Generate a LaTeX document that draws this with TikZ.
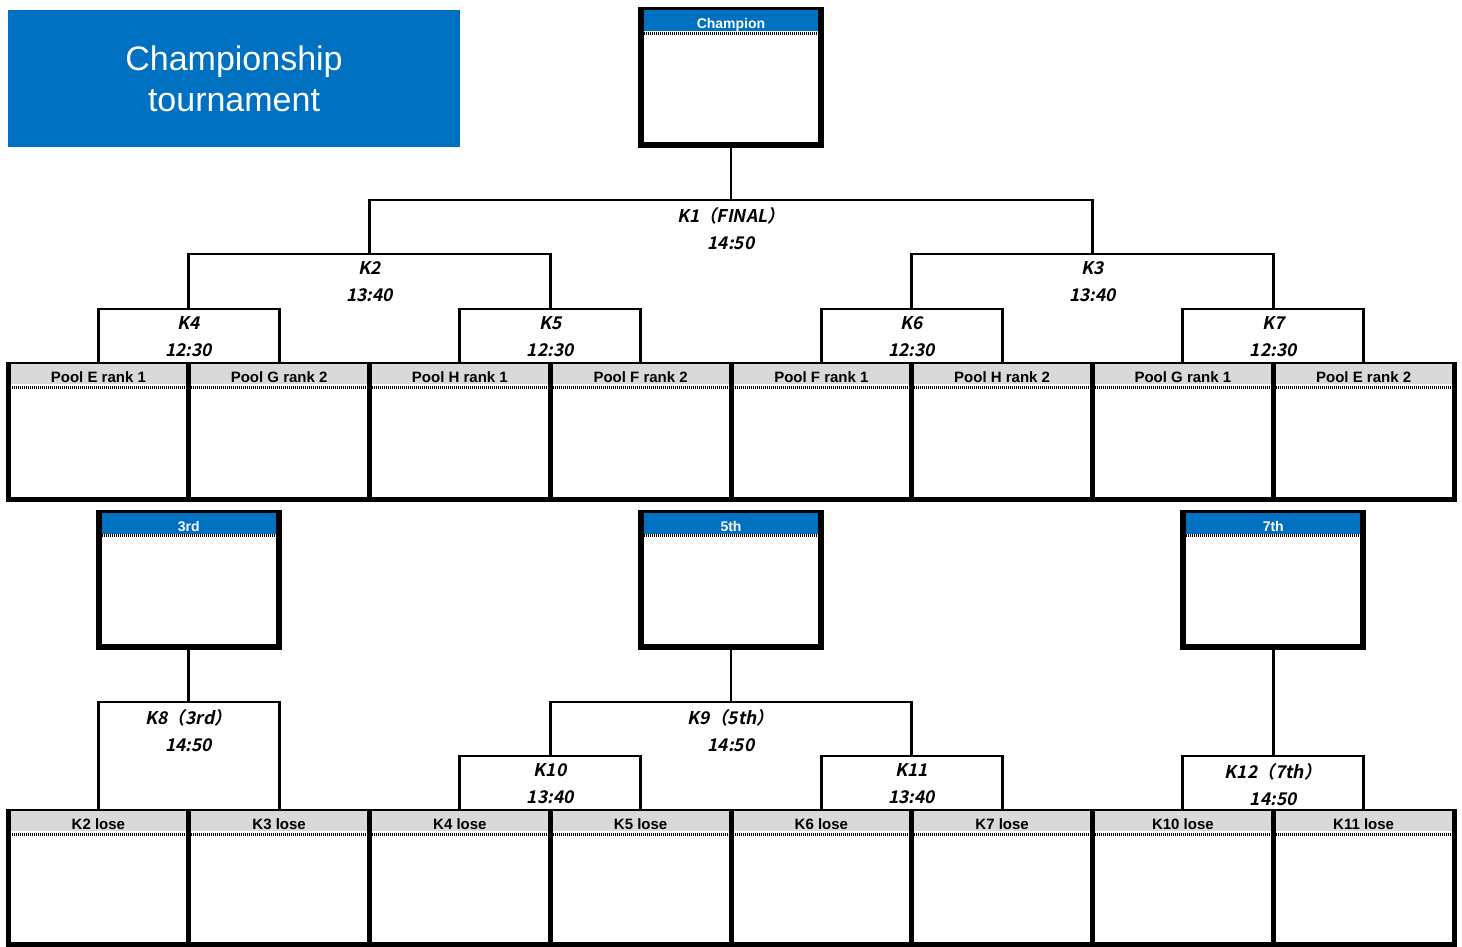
\documentclass[tikz,border=0pt]{standalone}
\usepackage{fontspec}
\setmainfont{Liberation Sans}
\newfontfamily\kfont[FakeSlant=0.2]{Noto Sans CJK JP Bold}
\usetikzlibrary{positioning}
\definecolor{titleblue}{HTML}{0070C0}
\definecolor{hdrgray}{HTML}{D9D9D9}
\newcommand{\hdrtext}[1]{\raisebox{-3pt}{#1}}
\tikzset{
  cell/.style={draw,line width=5pt,minimum width=180.75pt,minimum height=135.5pt,inner sep=0pt},
  lowcell/.style={cell,minimum height=133pt},
  medal/.style={draw,line width=6pt,minimum width=180pt,minimum height=134pt,inner sep=0pt},
  hdr/.style={fill=hdrgray,anchor=north,minimum width=175.75pt,minimum height=20pt,inner sep=0pt,text height=10.5pt,text depth=0pt,font=\bfseries\fontsize{15}{15}\selectfont},
  bluehdr/.style={hdr,fill=titleblue,text=white,minimum width=174pt,minimum height=21.5pt,text height=9.8pt,font=\bfseries\fontsize{14}{14}\selectfont},
  dots/.style={line width=3pt,dash pattern=on 1.1pt off 0.9pt},
  link/.style={line width=2.8pt},
  klab/.style={below,yshift=-6.5pt,align=center,font=\kfont\fontsize{17.5}{26.5}\selectfont,inner sep=1pt},
}
\begin{document}
\begin{tikzpicture}[x=1pt,y=-1pt]
\useasboundingbox (0,0) rectangle (1462,946);
\node[fill=titleblue,text=white,minimum width=452pt,minimum height=137pt,align=center,font=\fontsize{34}{41}\selectfont] (title) at (234,78.5) {Championship\\tournament};
% placing boxes
\node[medal,minimum height=135.3pt] (champ) at (731,77.4) {};
\node[bluehdr] (champhdr) at ([yshift=-3pt]champ.north) {\hdrtext{Champion}};
\node[medal] (third) at (188.75,579.5) {};
\node[bluehdr] (thirdhdr) at ([yshift=-3pt]third.north) {\hdrtext{3rd}};
\node[medal] (fifth) at (731,579.5) {};
\node[bluehdr] (fifthhdr) at ([yshift=-3pt]fifth.north) {\hdrtext{5th}};
\node[medal] (seventh) at (1273.25,579.5) {};
\node[bluehdr] (seventhhdr) at ([yshift=-3pt]seventh.north) {\hdrtext{7th}};
\foreach \n in {champhdr,thirdhdr,fifthhdr,seventhhdr}
  \draw[dots] ([yshift=-1.5pt]\n.south west) -- ([yshift=-1.5pt]\n.south east);
\foreach \t [count=\i] in {Pool E rank 1,Pool G rank 2,Pool H rank 1,Pool F rank 2,Pool F rank 1,Pool H rank 2,Pool G rank 1,Pool E rank 2}{
  \node[cell] (p\i) at ({8+180.75*(\i-0.5)},431.75) {};
  \node[hdr] (ph\i) at ([yshift=-2.5pt]p\i.north) {\hdrtext{\t}};
  \draw[dots] ([yshift=-3pt]ph\i.south west) -- ([yshift=-3pt]ph\i.south east);
}
\foreach \t [count=\i] in {K2 lose,K3 lose,K4 lose,K5 lose,K6 lose,K7 lose,K10 lose,K11 lose}{
  \node[lowcell] (l\i) at ({8+180.75*(\i-0.5)},877.5) {};
  \node[hdr] (lh\i) at ([yshift=-2.5pt]l\i.north) {\hdrtext{\t}};
  \draw[dots] ([yshift=-3pt]lh\i.south west) -- ([yshift=-3pt]lh\i.south east);
}
% match points
\coordinate (k1) at (731,200);
\coordinate (k2) at (369.5,254);
\coordinate (k3) at (1092.5,254);
\coordinate (k4) at (188.75,309);
\coordinate (k5) at (550.25,309);
\coordinate (k6) at (911.75,309);
\coordinate (k7) at (1273.25,309);
\coordinate (k8) at (188.75,702);
\coordinate (k9) at (731,702);
\coordinate (k10) at (550.25,756);
\coordinate (k11) at (911.75,756);
\coordinate (k12) at (1273.25,756);
\draw[link] (champ.south) -- (k1);
\draw[link] (k2) |- (k1) -| (k3);
\draw[link] (k4) |- (k2) -| (k5);
\draw[link] (k6) |- (k3) -| (k7);
\draw[link] (p1.north) |- (k4) -| (p2.north);
\draw[link] (p3.north) |- (k5) -| (p4.north);
\draw[link] (p5.north) |- (k6) -| (p6.north);
\draw[link] (p7.north) |- (k7) -| (p8.north);
\draw[link] (third.south) -- (k8);
\draw[link] (l1.north) |- (k8) -| (l2.north);
\draw[link] (fifth.south) -- (k9);
\draw[link] (k10) |- (k9) -| (k11);
\draw[link] (l3.north) |- (k10) -| (l4.north);
\draw[link] (l5.north) |- (k11) -| (l6.north);
\draw[link] (seventh.south) -- (k12);
\draw[link] (l7.north) |- (k12) -| (l8.north);
\node[klab] (k1lab) at (k1) {K1（FINAL）\\14:50};
\node[klab] (k2lab) at (k2) {K2\\13:40};
\node[klab] (k3lab) at (k3) {K3\\13:40};
\node[klab] (k4lab) at (k4) {K4\\12:30};
\node[klab] (k5lab) at (k5) {K5\\12:30};
\node[klab] (k6lab) at (k6) {K6\\12:30};
\node[klab] (k7lab) at (k7) {K7\\12:30};
\node[klab] (k8lab) at (k8) {K8（3rd）\\14:50};
\node[klab] (k9lab) at (k9) {K9（5th）\\14:50};
\node[klab] (k10lab) at (k10) {K10\\13:40};
\node[klab] (k11lab) at (k11) {K11\\13:40};
\node[klab] (k12lab) at (k12) {K12（7th）\\14:50};
\end{tikzpicture}
\end{document}
